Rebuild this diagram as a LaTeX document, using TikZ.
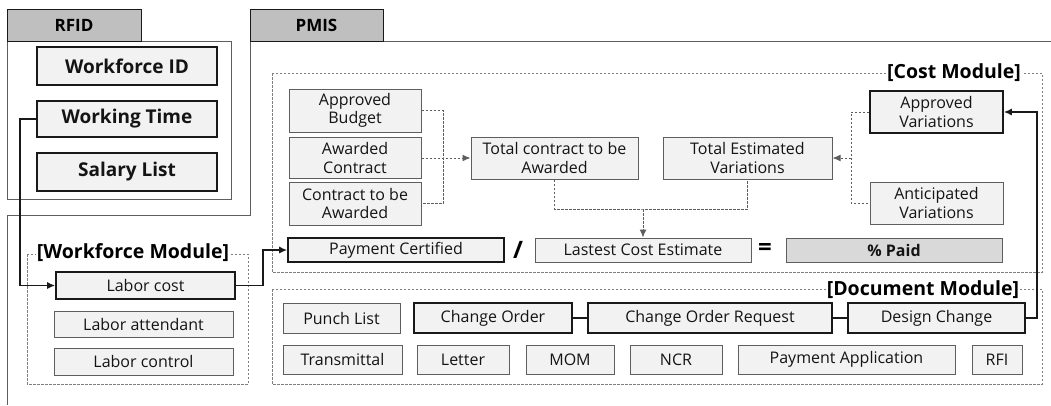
\documentclass[tikz,border=0pt]{standalone}
\usepackage{fontspec}
\setmainfont{Open Sans}
\usetikzlibrary{arrows.meta}
\definecolor{boxfill}{HTML}{F2F2F2}
\definecolor{tabfill}{HTML}{BFBFBF}
\definecolor{paidfill}{HTML}{D9D9D9}
\definecolor{thinline}{HTML}{5E5E5E}
\definecolor{dashline}{HTML}{7F7F7F}
\tikzset{
  box/.style={draw=thinline, line width=1pt, fill=boxfill, rectangle, inner sep=0pt, align=center, font=\fontsize{16}{18.5}\selectfont, text=black!92},
  tbox/.style={box, draw=black!90, line width=1.6pt},
  bbox/.style={tbox, font=\fontsize{19}{21}\selectfont\bfseries},
  tabbox/.style={draw=black!90, line width=1pt, fill=tabfill, rectangle, inner sep=0pt, font=\fontsize{17}{19}\selectfont\bfseries},
  modlabel/.style={fill=white, inner sep=1pt, font=\fontsize{19.5}{21}\selectfont\bfseries},
  modframe/.style={draw=dashline, line width=0.9pt, dash pattern=on 2.5pt off 1.5pt},
  conn/.style={draw=black!90, line width=1.5pt},
  dconn/.style={draw=thinline, line width=1pt, dash pattern=on 2.5pt off 1.5pt},
  arr/.style={-{Latex[length=8pt,width=7pt]}},
  panel/.style={draw=thinline, line width=1pt},
  sym/.style={inner sep=0pt, font=\fontsize{24}{26}\selectfont\bfseries}
}
\begin{document}
\begin{tikzpicture}[x=1pt,y=-1pt]
\useasboundingbox (0,0) rectangle (1051,405);
% RFID panel
\draw[panel] (7,41) rectangle (231,199);
\node[tabbox, minimum width=134pt, minimum height=32pt] (rfid) at (74,25) {RFID};
\node[bbox, minimum width=180pt, minimum height=38pt] (wid) at (127,66) {Workforce ID};
\node[bbox, minimum width=180pt, minimum height=36pt] (wt) at (127,119) {Working Time};
\node[bbox, minimum width=180pt, minimum height=38pt] (sl) at (127,172) {Salary List};
% PMIS panel
\draw[panel] (1051,41) -- (383,41);
\draw[panel] (250,41) -- (250,215) -- (7,215) -- (7,405);
\node[tabbox, minimum width=133pt, minimum height=32pt] (pmis) at (316.5,25) {PMIS};
% Cost module
\draw[modframe] (272,73) rectangle (1042,272);
\node[modlabel] (costlab) at (954,73) {[Cost Module]};
\node[box, minimum width=132pt, minimum height=43pt] (ab) at (355,110.5) {Approved\\Budget};
\node[box, minimum width=132pt, minimum height=41pt] (ac) at (355,158) {Awarded\\Contract};
\node[box, minimum width=132pt, minimum height=43pt] (ctba) at (355,203.5) {Contract to be\\Awarded};
\node[box, minimum width=167pt, minimum height=42pt] (tc) at (554.5,158) {Total contract to be\\Awarded};
\node[box, minimum width=169pt, minimum height=42pt] (tev) at (747.5,158) {Total Estimated\\Variations};
\node[tbox, minimum width=133pt, minimum height=42pt] (av) at (936.5,112) {Approved\\Variations};
\node[box, minimum width=133pt, minimum height=42pt] (anv) at (936.5,203) {Anticipated\\Variations};
\node[tbox, minimum width=216pt, minimum height=24pt] (pc) at (396,250) {Payment Certified};
\node[sym] (slash) at (518,250) {/};
\node[box, minimum width=216pt, minimum height=24pt] (lce) at (643,250) {Lastest Cost Estimate};
\node[sym] (eq) at (765,249) {=};
\node[box, fill=paidfill, minimum width=216pt, minimum height=24pt, font=\fontsize{16}{18}\selectfont\bfseries] (paid) at (894,250) {\% Paid};
% Workforce module
\draw[modframe] (27,254) rectangle (248,384);
\node[modlabel] (wflab) at (133,253) {[Workforce Module]};
\node[tbox, minimum width=179pt, minimum height=27pt] (lc) at (145.5,285.5) {Labor cost};
\node[box, minimum width=179pt, minimum height=26pt] (la) at (143.5,324) {Labor attendant};
\node[box, minimum width=179pt, minimum height=27pt] (lctl) at (143.5,361.5) {Labor control};
% Document module
\draw[modframe] (272,289) rectangle (1042,384);
\node[modlabel] (doclab) at (923,290) {[Document Module]};
\node[box, minimum width=117pt, minimum height=30pt] (pl) at (341.5,318) {Punch List};
\node[tbox, minimum width=158pt, minimum height=30pt] (co) at (493,318) {Change Order};
\node[tbox, minimum width=244pt, minimum height=30pt] (cor) at (710,318) {Change Order Request};
\node[tbox, minimum width=177pt, minimum height=30pt] (dc) at (936.5,318) {Design Change};
\node[box, minimum width=119pt, minimum height=29pt] (tr) at (342.5,359.5) {Transmittal};
\node[box, minimum width=92pt, minimum height=29pt] (le) at (463,359.5) {Letter};
\node[box, minimum width=88pt, minimum height=29pt] (mom) at (570,359.5) {MOM};
\node[box, minimum width=92pt, minimum height=29pt] (ncr) at (676,359.5) {NCR};
\node[box, minimum width=217pt, minimum height=29pt] (pa) at (846.5,359.5) {Payment Application};
\node[box, minimum width=50pt, minimum height=29pt] (rfi) at (997,359.5) {RFI};
% solid connectors
\draw[conn,arr] (wt.west) -- ++(-16,0) |- (lc.west);
\draw[conn,arr] (lc.east) -- ++(27,0) |- (pc.west);
\draw[conn] (co.east) -- (cor.west);
\draw[conn] (cor.east) -- (dc.west);
\draw[conn,arr] (dc.east) -- ++(11,0) |- (av.east);
% dashed connectors
\coordinate (j1) at (443,158);
\draw[dconn] (ab.east) -| (j1) |- (ctba.east);
\draw[dconn,arr] (ac.east) -- (tc.west);
\coordinate (j2) at (643,209);
\draw[dconn] (tc.south) |- (j2) -| (tev.south);
\draw[dconn,arr] (j2) -- (lce.north);
\coordinate (j3) at (851,158);
\draw[dconn] (av.west) -| (j3) |- (anv.west);
\draw[dconn,arr] (j3) -- (tev.east);
\end{tikzpicture}
\end{document}
